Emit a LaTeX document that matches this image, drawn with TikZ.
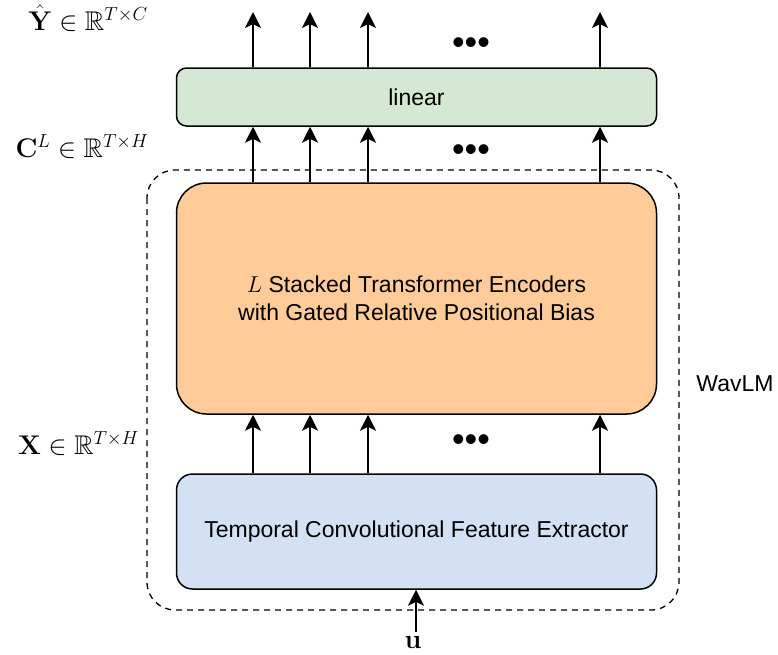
\RequirePackage{fix-cm}
\documentclass[tikz,border=0pt]{standalone}
\usepackage{amsmath,amssymb}
\usepackage[no-math]{fontspec}
\setmainfont{Liberation Sans}
\usetikzlibrary{arrows.meta,positioning}

\definecolor{lingreen}{HTML}{D5E8D4}
\definecolor{encorange}{HTML}{FFCC99}
\definecolor{extblue}{HTML}{D4E1F5}

\begin{document}
\begin{tikzpicture}[x=1pt,y=-1pt]
\tikzstyle{every node}=[inner sep=0pt, font=\fontsize{23}{28}\selectfont]
\tikzstyle{block}=[draw, line width=1.5pt, minimum width=480pt, align=center]
\tikzstyle{arr}=[line width=1.5pt, -{Stealth[length=16pt,width=16pt,inset=4pt]}]
\tikzstyle{mathlbl}=[font=\fontsize{27}{30}\selectfont, anchor=base]
\tikzstyle{dots}=[font=\fontsize{36}{36}\selectfont]
\useasboundingbox (0,0) rectangle (778,654);
% boxes
\node (lin) [block, fill=lingreen, rounded corners=10pt, minimum height=58pt] at (416.5,97) {linear};
\node (enc) [block, fill=encorange, rounded corners=30pt, minimum height=231pt] at (416.5,298.5) {$L$ Stacked Transformer Encoders\\with Gated Relative Positional Bias};
\node (ext) [block, fill=extblue, rounded corners=16pt, minimum height=115pt] at (416.5,531.5) {Temporal Convolutional Feature Extractor};
% WavLM frame
\draw[dashed, line width=1.3pt, dash pattern=on 6pt off 5pt, rounded corners=28pt] (147,170) rectangle (679,610);
\node (wav) at (735,384) {WavLM};
% arrows
\foreach \x [count=\i] in {253,310,368,600} {
  \coordinate (out\i) at (\x,12);
  \draw[arr] (\x,0 |- lin.north) -- (out\i);
  \draw[arr] (\x,0 |- enc.north) -- (\x,0 |- lin.south);
  \draw[arr] (\x,0 |- ext.north) -- (\x,0 |- enc.south);
}
\node (d1) [dots] at (471,46) {•••};
\node (d2) [dots] at (471,153) {•••};
\node (d3) [dots] at (471,443) {•••};
% input
\node (u) [mathlbl] at (413,648) {$\mathbf{u}$};
\coordinate (uin) at (416,632);
\draw[arr] (uin) -- (uin |- ext.south);
% labels
\node (yhat) [mathlbl] at (88,30) {$\hat{\mathbf{Y}}\in\mathbb{R}^{T\times C}$};
\node (cl) [mathlbl] at (82,157) {$\mathbf{C}^L\in\mathbb{R}^{T\times H}$};
\node (xin) [mathlbl] at (78.5,454) {$\mathbf{X}\in\mathbb{R}^{T\times H}$};
\end{tikzpicture}
\end{document}
